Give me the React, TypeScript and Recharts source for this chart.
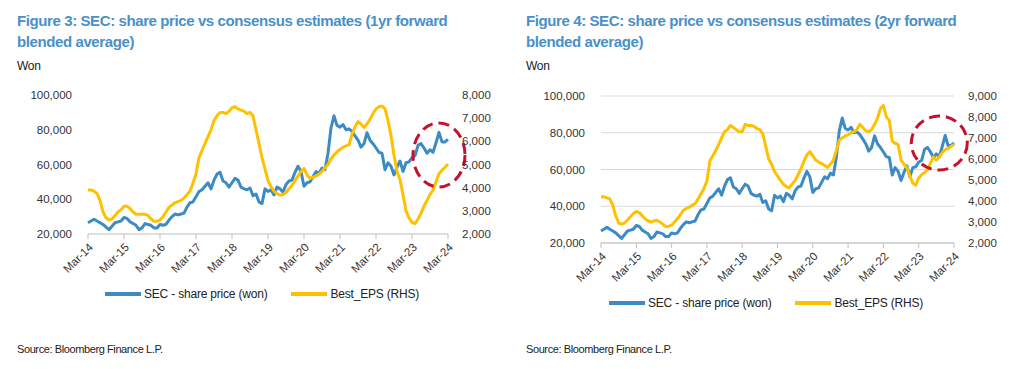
import { LineChart, Line, XAxis, YAxis, CartesianGrid, ReferenceDot } from 'recharts';

const MONTHS = ['Jan', 'Feb', 'Mar', 'Apr', 'May', 'Jun', 'Jul', 'Aug', 'Sep', 'Oct', 'Nov', 'Dec'];

// monthly, Mar-14 .. Mar-24
const SHARE_PRICE = [
    26500, 27500, 28500, 27500, 26500, 25500, 24000, 22500, 24500, 26500,
    27000, 27500, 29500, 29000, 27000, 26000, 25000, 22500, 23500, 26000, 25500, 25000,
    23500, 23500, 25500, 25000, 25500, 28000, 30000, 31500, 31000, 31500, 32000, 35500,
    38000, 38500, 41500, 44500, 45500, 47500, 49500, 46000, 51000, 54500, 55500, 50500,
    49500, 47000, 49500, 52000, 51000, 47000, 46000, 45500, 46500, 42000, 43000, 38500,
    37500, 46000, 44500, 45500, 42500, 47000, 46000, 44000, 48500, 50500, 51000, 55500,
    59000, 56000, 47500, 49500, 50000, 53000, 56000, 55000, 58000, 57000, 66500, 81000,
    88000, 82500, 81500, 83000, 80000, 80500, 79000, 76500, 74000, 70000, 72000, 78300,
    74000, 72000, 69500, 67000, 66500, 57000, 61000, 59000, 54000, 58500, 62000, 56000,
    61000, 61500, 64000, 65000, 71000, 72000, 69500, 66500, 68500, 67000, 72500, 78500,
    73000, 73000, 74500,
];

const EPS_1YR = [
    3900, 3900, 3850, 3750, 3450, 2950, 2700, 2600, 2650, 2800,
    2950, 3050, 3200, 3200, 3100, 2950, 2850, 2850, 2850, 2850, 2800, 2650,
    2550, 2550, 2600, 2750, 2950, 3150, 3250, 3350, 3400, 3450, 3550, 3700,
    3850, 4200, 4600, 5300, 5600, 5900, 6200, 6500, 6900, 7100, 7250, 7250,
    7200, 7300, 7450, 7500, 7400, 7350, 7300, 7200, 7250, 7100, 6500, 5900,
    5300, 4800, 4300, 4050, 3850, 3750, 3680, 3700, 3800, 3950, 4100, 4300,
    4500, 4700, 4830, 4550, 4400, 4450, 4500, 4580, 4700, 4850, 5000, 5250,
    5400, 5550, 5650, 5750, 5800, 5850, 6300, 6630, 6850, 6750, 6600, 6750,
    6950, 7200, 7400, 7500, 7520, 7400, 6900, 6250, 5400, 4700, 4350, 3700,
    3000, 2700, 2500, 2450, 2650, 2900, 3200, 3450, 3700, 3900, 4250, 4600,
    4750, 4880, 5020,
];

const EPS_2YR = [
    4200, 4200, 4150, 4100, 3800, 3300, 2950, 2900, 2950, 3100,
    3250, 3400, 3500, 3450, 3300, 3150, 3050, 3000, 3050, 3080, 3000, 2900,
    2780, 2800, 2850, 3000, 3150, 3350, 3550, 3650, 3700, 3800, 3870, 4100,
    4350, 4600, 4950, 5900, 6150, 6400, 6700, 7000, 7300, 7400, 7600, 7500,
    7400, 7300, 7300, 7650, 7600, 7600, 7550, 7450, 7400, 7200, 6600, 6000,
    5750, 5400, 5200, 4980, 4800, 4680, 4630, 4800, 4980, 5250, 5550, 5900,
    6200, 6350, 6150, 5950, 5850, 5780, 5700, 5600, 5750, 5950, 6400, 6900,
    7000, 7100, 7150, 7250, 7300, 7400, 7650, 7500, 7350, 7300, 7400, 7650,
    7950, 8400, 8550, 8000, 7850, 6850, 6750, 6700, 5950, 5750, 5600, 5200,
    4850, 4750, 5100, 5250, 5350, 5500, 5800, 6100, 5950, 6100, 6300, 6450,
    6500, 6600, 6700,
];

const LEFT_TICKS = [20000, 40000, 60000, 80000, 100000];
const RIGHT_TICKS_1 = [2000, 3000, 4000, 5000, 6000, 7000, 8000];
const RIGHT_TICKS_2 = [2000, 3000, 4000, 5000, 6000, 7000, 8000, 9000];

// dashed circle call-outs (month, share price level)
const CIRCLE_1 = ['Dec-23', 65500];
const CIRCLE_2 = ['Oct-23', 74400];

const BLUE = '#3D8BC4';
const YELLOW = '#FFC000';
const FONT = '"Liberation Sans", Arial, sans-serif';
const TITLE_BLUE = '#4A90C8';

const monthLabel = (i: number) => {
    const m = 2 + i;
    return `${MONTHS[m % 12]}-${14 + Math.floor(m / 12)}`;
};

const data1 = SHARE_PRICE.map((p, i) => ({ month: monthLabel(i), price: p, eps: EPS_1YR[i] }));
const data2 = SHARE_PRICE.map((p, i) => ({ month: monthLabel(i), price: p, eps: EPS_2YR[i] }));

const fmt = (v: number) => v.toLocaleString('en-US');

const XTick = (props: any) => {
    const { x, y, payload } = props;
    return (
        <g transform={`translate(${x + 3},${y + 2})`}>
            <text transform="rotate(-45)" textAnchor="end" dy="0.35em" fontSize={11.5} fill="#333" fontFamily={FONT}>
                {payload.value}
            </text>
        </g>
    );
};

const Callout = ({ cx, cy, rx, ry }: any) => (
    <ellipse cx={cx} cy={cy} rx={rx} ry={ry} fill="none" stroke="#C8102E" strokeWidth={3} strokeDasharray="11 6" />
);

function Panel({ data, left, margin, rightDomain, rightTicks, grid, callout, rx, ry, title, legendTop, legendLeft }: any) {
    const tick = { fontSize: 11.5, fill: '#333', fontFamily: FONT };
    const textLeft = left === 0 ? 17 : 14;
    return (
        <div style={{ position: 'absolute', left, top: 0, width: 512, height: 369 }}>
            <div style={{ position: 'absolute', left: textLeft, top: 10, color: TITLE_BLUE, fontFamily: FONT, fontWeight: 'bold', fontSize: 15, letterSpacing: -0.4, lineHeight: '21px', width: 490 }}>
                {title}<br />blended average)
            </div>
            <div style={{ position: 'absolute', left: textLeft, top: 59, fontFamily: FONT, fontSize: 12, letterSpacing: -0.3, color: '#222' }}>Won</div>
            <div style={{ position: 'absolute', top: 0, left: 0 }}>
                <LineChart width={512} height={300} data={data} margin={margin}>
                    {grid && <CartesianGrid vertical={false} stroke="#d9d9d9" yAxisId="left" />}
                    <XAxis
                        dataKey="month"
                        interval={11}
                        tick={<XTick />}
                        height={50}
                        tickSize={5}
                        tickMargin={4}
                        axisLine={{ stroke: '#bfbfbf' }}
                        tickLine={{ stroke: '#bfbfbf' }}
                    />
                    <YAxis
                        yAxisId="left"
                        domain={[20000, 100000]}
                        ticks={LEFT_TICKS}
                        tickFormatter={fmt}
                        tick={tick}
                        axisLine={false}
                        tickLine={false}
                        tickSize={6}
                        tickMargin={10}
                        width={60}
                        allowDataOverflow
                    />
                    <YAxis
                        yAxisId="right"
                        orientation="right"
                        domain={rightDomain}
                        ticks={rightTicks}
                        tickFormatter={fmt}
                        tick={{ ...tick, textAnchor: 'start' }}
                        axisLine={false}
                        tickLine={false}
                        tickSize={6}
                        tickMargin={8}
                        width={50}
                        allowDataOverflow
                    />
                    <Line yAxisId="left" type="linear" dataKey="price" stroke={BLUE} strokeWidth={3} dot={false} isAnimationActive={false} strokeLinejoin="round" />
                    <Line yAxisId="right" type="linear" dataKey="eps" stroke={YELLOW} strokeWidth={3} dot={false} isAnimationActive={false} strokeLinejoin="round" />
                    <ReferenceDot
                        yAxisId="left"
                        x={callout[0]}
                        y={callout[1]}
                        shape={(p: any) => <Callout cx={p.cx} cy={p.cy} rx={rx} ry={ry} />}
                    />
                </LineChart>
            </div>
            <div style={{ position: 'absolute', top: legendTop, left: legendLeft, display: 'flex', alignItems: 'center', fontFamily: FONT, fontSize: 12, letterSpacing: -0.2, color: '#222', whiteSpace: 'nowrap' }}>
                <span style={{ display: 'inline-block', width: 36, height: 4, background: BLUE, marginRight: 3 }} />
                <span>SEC - share price (won)</span>
                <span style={{ display: 'inline-block', width: 36, height: 4, background: YELLOW, marginLeft: 24, marginRight: 3 }} />
                <span>Best_EPS (RHS)</span>
            </div>
            <div style={{ position: 'absolute', left: textLeft, top: 343, fontFamily: FONT, fontSize: 11, letterSpacing: -0.4, color: '#222' }}>
                Source: Bloomberg Finance L.P.
            </div>
        </div>
    );
}

export default function App() {
    return (
        <div style={{ position: 'relative', width: 1024, height: 369, background: '#fff', overflow: 'hidden' }}>
            <style>{'body{margin:0}'}</style>
            <Panel
                data={data1}
                left={0}
                margin={{ top: 95, left: 28, right: 14, bottom: 16 }}
                rightDomain={[2000, 8000]}
                rightTicks={RIGHT_TICKS_1}
                grid={false}
                callout={CIRCLE_1}
                rx={26}
                ry={32}
                title="Figure 3: SEC: share price vs consensus estimates (1yr forward"
                legendTop={287}
                legendLeft={105}
            />
            <Panel
                data={data2}
                left={512}
                margin={{ top: 96, left: 29, right: 20, bottom: 7 }}
                rightDomain={[2000, 9000]}
                rightTicks={RIGHT_TICKS_2}
                grid={true}
                callout={CIRCLE_2}
                rx={28}
                ry={27}
                title="Figure 4: SEC: share price vs consensus estimates (2yr forward"
                legendTop={296}
                legendLeft={97}
            />
        </div>
    );
}
